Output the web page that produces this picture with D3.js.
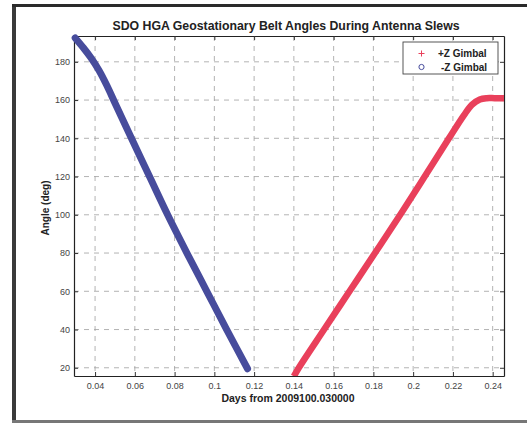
<!DOCTYPE html>
<html><head><meta charset="utf-8">
<script src="https://cdn.jsdelivr.net/npm/d3@7"></script>
<style>
html,body{margin:0;padding:0;background:#fff;}
svg{display:block;}
</style></head>
<body>
<svg id="chart" width="527" height="423"></svg>
<script>
const title = "SDO HGA Geostationary Belt Angles During Antenna Slews";
const xLabel = "Days from 2009100.030000";
const yLabel = "Angle (deg)";
const xTicks = [0.04,0.06,0.08,0.1,0.12,0.14,0.16,0.18,0.2,0.22,0.24];
const xTickLabels = ["0.04","0.06","0.08","0.1","0.12","0.14","0.16","0.18","0.2","0.22","0.24"];
const yTicks = [20,40,60,80,100,120,140,160,180];
const seriesNames = ["+Z Gimbal","-Z Gimbal"];
// -Z Gimbal (blue)
const minusZDays  = [0.0300,0.0340,0.0380,0.0420,0.0460,0.0500,0.0583,0.0674,0.0765,0.0862,0.0962,0.1062,0.1167];
const minusZAngle = [192.5,187.5,182.0,175.5,167.5,158.5,140.0,120.0,100.0,80.0,60.0,40.0,19.5];
// +Z Gimbal (red)
const plusZDays  = [0.1400,0.1425,0.1552,0.1680,0.1808,0.1935,0.2058,0.2180,0.2255,0.2295,0.2335,0.2370,0.2410,0.2457];
const plusZAngle = [15.5,20.0,40.0,60.0,80.0,100.0,120.0,140.0,152.0,157.5,160.3,161.0,161.0,161.0];

const svg = d3.select("#chart");
const L=74, R=504, T=36, B=376;
const x = d3.scaleLinear().domain([0.0294,0.2457]).range([L,R]);
const y = d3.scaleLinear().domain([15.7,193.5]).range([B,T]);

// scan frame
svg.append("rect").attr("x",12).attr("y",4).attr("width",4).attr("height",419).attr("fill","#3a3a3a");
svg.append("rect").attr("x",12).attr("y",4).attr("width",515).attr("height",3).attr("fill","#2a2a2a");
svg.append("rect").attr("x",12).attr("y",420).attr("width",515).attr("height",3).attr("fill","#777");

// grid
const grid = svg.append("g").attr("stroke","#a0a0a0").attr("stroke-width",0.8).attr("stroke-dasharray","5,5");
xTicks.forEach(t=>grid.append("line").attr("x1",x(t)).attr("x2",x(t)).attr("y1",T).attr("y2",B));
yTicks.forEach(t=>grid.append("line").attr("x1",L).attr("x2",R).attr("y1",y(t)).attr("y2",y(t)));

// axes (inside ticks)
const fontTick = "Arial, 'Liberation Sans', sans-serif";
const gx = svg.append("g").attr("transform",`translate(0,${B})`)
  .call(d3.axisBottom(x).tickValues(xTicks).tickFormat((d,i)=>xTickLabels[i]).tickSizeInner(-4).tickSizeOuter(0).tickPadding(7));
const gy = svg.append("g").attr("transform",`translate(${L},0)`)
  .call(d3.axisLeft(y).tickValues(yTicks).tickSizeInner(-4).tickSizeOuter(0).tickPadding(4));
const gx2 = svg.append("g").attr("transform",`translate(0,${T})`)
  .call(d3.axisTop(x).tickValues(xTicks).tickFormat("").tickSizeInner(-4).tickSizeOuter(0));
const gy2 = svg.append("g").attr("transform",`translate(${R},0)`)
  .call(d3.axisRight(y).tickValues(yTicks).tickFormat("").tickSizeInner(-4).tickSizeOuter(0));
[gx,gy,gx2,gy2].forEach(g=>{
  g.select(".domain").attr("stroke","#222").attr("stroke-width",1.2);
  g.selectAll(".tick line").attr("stroke","#333");
  g.selectAll("text").attr("font-family",fontTick).attr("font-size",9).attr("fill","#444");
});

// data
const line = d3.line().x(d=>x(d[0])).y(d=>y(d[1])).curve(d3.curveCatmullRom.alpha(0.5));
const blue = minusZDays.map((d,i)=>[d,minusZAngle[i]]);
const red = plusZDays.map((d,i)=>[d,plusZAngle[i]]);
svg.append("clipPath").attr("id","clip").append("rect").attr("x",L-4).attr("y",T-4).attr("width",R-L+4).attr("height",B-T+4);
svg.append("path").datum(blue).attr("d",line).attr("fill","none").attr("stroke","#474c9c").attr("stroke-width",7).attr("stroke-linecap","round").attr("stroke-linejoin","round");
svg.append("path").datum(red).attr("d",line).attr("fill","none").attr("stroke","#e9405b").attr("stroke-width",6.5).attr("stroke-linecap","butt").attr("stroke-linejoin","round").attr("clip-path","url(#clip)");

// legend
const lg = svg.append("g");
lg.append("rect").attr("x",403).attr("y",42).attr("width",95).attr("height",32).attr("fill","#fff").attr("stroke","#444").attr("stroke-width",0.9);
lg.append("path").attr("d","M418.5,53.5h6M421.5,50.5v6").attr("stroke","#e9405b").attr("stroke-width",1);
lg.append("circle").attr("cx",421.5).attr("cy",67).attr("r",2.6).attr("fill","none").attr("stroke","#474c9c").attr("stroke-width",1);
lg.append("text").attr("x",438).attr("y",57).attr("font-family",fontTick).attr("font-weight","bold").attr("font-size",10).attr("fill","#222").text(seriesNames[0]);
lg.append("text").attr("x",441).attr("y",71).attr("font-family",fontTick).attr("font-weight","bold").attr("font-size",10).attr("fill","#222").text(seriesNames[1]);

// labels
svg.append("text").attr("x",286).attr("y",30).attr("text-anchor","middle").attr("font-family",fontTick).attr("font-weight","bold").attr("font-size",12.3).attr("fill","#222").text(title);
svg.append("text").attr("x",288).attr("y",402).attr("text-anchor","middle").attr("font-family",fontTick).attr("font-weight","bold").attr("font-size",10.5).attr("fill","#222").text(xLabel);
svg.append("text").attr("transform","translate(49,208) rotate(-90)").attr("text-anchor","middle").attr("font-family",fontTick).attr("font-weight","bold").attr("font-size",10).attr("fill","#222").text(yLabel);
</script>
</body></html>
